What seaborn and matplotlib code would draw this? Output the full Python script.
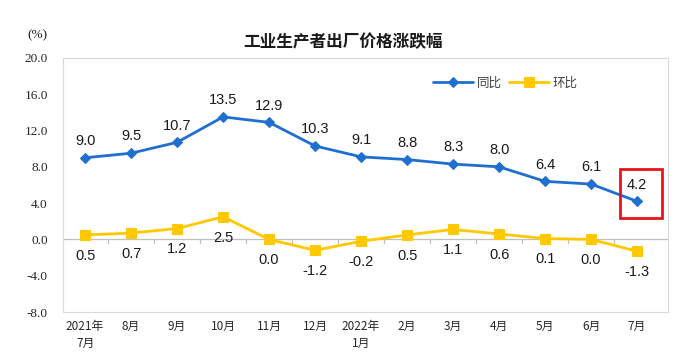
import matplotlib
matplotlib.use("Agg")
import matplotlib.pyplot as plt
import seaborn as sns
import pandas as pd
from matplotlib.patches import Rectangle

months = ["2021年\n7月", "8月", "9月", "10月", "11月", "12月", "2022年\n1月",
          "2月", "3月", "4月", "5月", "6月", "7月"]
yoy = [9.0, 9.5, 10.7, 13.5, 12.9, 10.3, 9.1, 8.8, 8.3, 8.0, 6.4, 6.1, 4.2]
mom = [0.5, 0.7, 1.2, 2.5, 0.0, -1.2, -0.2, 0.5, 1.1, 0.6, 0.1, 0.0, -1.3]
yticks = [-8.0, -4.0, 0.0, 4.0, 8.0, 12.0, 16.0, 20.0]

sns.set_style("white")
plt.rcParams['font.family'] = ['Noto Sans CJK SC', 'DejaVu Sans']

df = pd.DataFrame({"x": range(len(months)), "同比": yoy, "环比": mom})

fig = plt.figure(figsize=(6.85, 3.62), dpi=100)
ax = fig.add_axes([0.092, 0.138, 0.883, 0.702])

blue = "#1F6FD1"
yellow = "#FFC800"
sns.lineplot(data=df, x="x", y="同比", ax=ax, color=blue, lw=2.0,
             marker="D", markersize=5, markeredgecolor=blue, label="同比")
sns.lineplot(data=df, x="x", y="环比", ax=ax, color=yellow, lw=2.0,
             marker="s", markersize=7.5, markeredgecolor=yellow, label="环比")

ax.set_xlim(-0.48, 12.67)
ax.set_ylim(-8, 20)
ax.set_yticks(yticks)
ax.set_yticklabels([f"{v:.1f}" for v in yticks])
ax.set_xticks(range(len(months)))
ax.set_xticklabels(months)
ax.tick_params(axis="x", length=0, pad=6)
ax.tick_params(axis="y", length=3, direction="in", color="#BFBFBF", pad=11)
for lbl in ax.get_yticklabels():
    lbl.set_fontfamily("Liberation Serif")
    lbl.set_fontsize(9.5)
    lbl.set_horizontalalignment("right")
for lbl in ax.get_xticklabels():
    lbl.set_fontfamily(["Noto Sans CJK SC"])
    lbl.set_fontsize(8.5)
    lbl.set_linespacing(1.35)
ax.set_xlabel("")
ax.set_ylabel("")
for s in ax.spines.values():
    s.set_color("#D9D9D9")
    s.set_linewidth(0.8)

# zero category axis with tick marks between categories
ax.axhline(0, color="#BFBFBF", lw=0.9, zorder=1)
for i in range(len(months) - 1):
    ax.plot([i + 0.5, i + 0.5], [0, -0.4], color="#BFBFBF", lw=0.9, zorder=1)

for i, v in enumerate(yoy):
    ax.annotate(f"{v:.1f}", (i, v), xytext=(0, 7), textcoords="offset points",
                ha="center", va="bottom", fontsize=10.5, family="Liberation Sans",
                color="#1A1A1A")
for i, v in enumerate(mom):
    ax.annotate(f"{v:.1f}", (i, v), xytext=(0, -10), textcoords="offset points",
                ha="center", va="top", fontsize=10.5, family="Liberation Sans",
                color="#1A1A1A")

ax.add_patch(Rectangle((11.63, 2.4), 0.91, 5.4, fill=False, edgecolor="#E8141B",
                       lw=2.0, zorder=5, clip_on=False))

leg = ax.legend(loc="upper right", bbox_to_anchor=(0.87, 0.97), ncol=2, frameon=False,
                fontsize=9, handlelength=3.2, handletextpad=0.3, columnspacing=0.6)
for t in leg.get_texts():
    t.set_color("#404040")

fig.text(0.5, 0.885, "工业生产者出厂价格涨跌幅", ha="center", va="center",
         fontsize=12, fontweight="bold", color="#1A1A1A")
fig.text(0.054, 0.903, "(%)", ha="center", va="center", fontsize=9.5,
         family="Liberation Serif", color="#1A1A1A")

fig.savefig("out.png", dpi=100)
